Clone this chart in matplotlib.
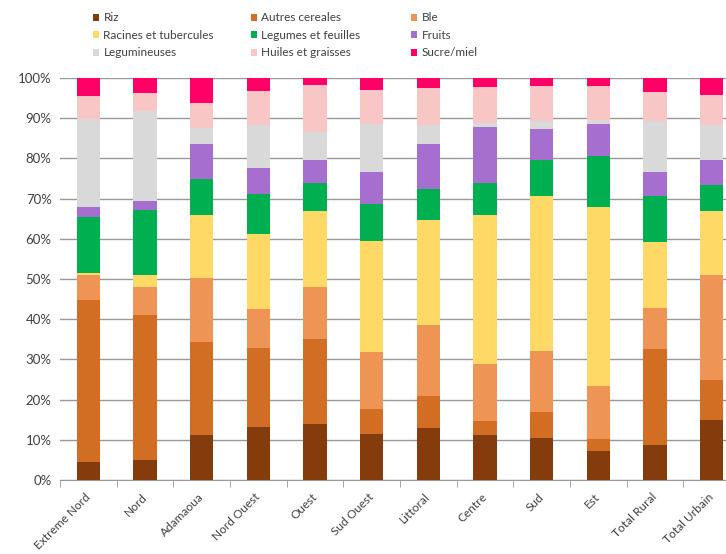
import matplotlib
matplotlib.use("Agg")
import matplotlib.pyplot as plt
import numpy as np

plt.rcParams['font.family'] = ['Lato', 'DejaVu Sans']

categories = ["Extreme Nord", "Nord", "Adamaoua", "Nord Ouest", "Ouest", "Sud Ouest",
              "Littoral", "Centre", "Sud", "Est", "Total Rural", "Total Urbain"]

series_names = ["Riz", "Autres cereales", "Ble", "Racines et tubercules",
                "Legumes et feuilles", "Fruits", "Legumineuses", "Huiles et graisses", "Sucre/miel"]

riz         = [4.4, 5.0, 11.3, 13.1, 14.0, 11.5, 13.0, 11.3, 10.4, 7.1, 8.8, 15.0]
autres      = [40.5, 36.0, 23.0, 19.8, 21.0, 6.2, 8.0, 3.5, 6.6, 3.0, 23.8, 9.8]
ble         = [6.2, 7.0, 16.0, 9.7, 13.0, 14.1, 17.5, 14.0, 15.1, 13.4, 10.2, 26.1]
racines     = [0.3, 3.0, 15.6, 18.6, 18.9, 27.6, 26.2, 37.0, 38.6, 44.5, 16.5, 15.9]
legumes     = [13.9, 16.2, 9.0, 9.9, 7.1, 9.3, 7.6, 8.0, 8.9, 12.6, 11.4, 6.5]
fruits      = [2.7, 2.3, 8.6, 6.4, 5.6, 8.0, 11.2, 13.9, 7.8, 8.0, 5.8, 6.2]
legumineuses = [21.8, 22.2, 4.0, 10.8, 6.9, 11.9, 4.9, 1.1, 1.8, 1.0, 12.9, 8.8]
huiles      = [5.6, 4.6, 6.3, 8.4, 11.8, 8.3, 9.1, 9.0, 8.9, 8.5, 7.2, 7.4]
sucre       = [4.6, 3.7, 6.2, 3.3, 1.7, 3.1, 2.5, 2.2, 1.9, 1.9, 3.4, 4.3]

values = [riz, autres, ble, racines, legumes, fruits, legumineuses, huiles, sucre]
colors = ["#843C0C", "#D26E24", "#EE9455", "#FFD966", "#00B050",
          "#A66FCF", "#D9D9D9", "#F9C6C6", "#FF0066"]

fig = plt.figure(figsize=(7.26, 5.54), dpi=100)
ax = fig.add_axes([60/726, 74/554, 680/726, 402/554])

x = np.arange(len(categories))
bottom = np.zeros(len(categories))
handles = []
for name, vals, col in zip(series_names, values, colors):
    v = np.array(vals, dtype=float)
    h = ax.bar(x, v, bottom=bottom, width=0.41, color=col, label=name, zorder=3)
    handles.append(h)
    bottom += v

ax.set_ylim(0, 100)
ax.set_xlim(-0.5, len(categories) - 0.5)
ax.set_yticks(np.arange(0, 101, 10))
ax.set_yticklabels([f"{t}%" for t in range(0, 101, 10)], fontsize=9.5, color="#404040")
ax.yaxis.grid(True, color="#999999", linewidth=1.0, zorder=0)
ax.tick_params(axis='y', length=0, pad=6)

ax.set_xticks(x)
ax.set_xticklabels(categories, rotation=45, ha='right', va='center', rotation_mode='anchor',
                   fontsize=8.6, color="#404040")
ax.tick_params(axis='x', length=0, pad=11)
ax.set_xticks(np.arange(-0.5, len(categories), 1), minor=True)
ax.tick_params(axis='x', which='minor', length=5, color="#999999")

for s in ["top", "right", "left"]:
    ax.spines[s].set_visible(False)
ax.spines["bottom"].set_color("#999999")

# legend: three columns, row-wise reading order
col_x = [91, 249, 409]
for c in range(3):
    idx = [c, c + 3, c + 6]
    leg = fig.legend([handles[i] for i in idx], [series_names[i] for i in idx],
                     loc='upper left', bbox_to_anchor=(col_x[c]/726, 1 - 10/554),
                     frameon=False, fontsize=8.5, handlelength=0.45, handleheight=0.5,
                     handletextpad=0.4, labelspacing=0.55, borderpad=0.2,
                     borderaxespad=0, labelcolor="#404040")

fig.savefig("out.png", dpi=100)
